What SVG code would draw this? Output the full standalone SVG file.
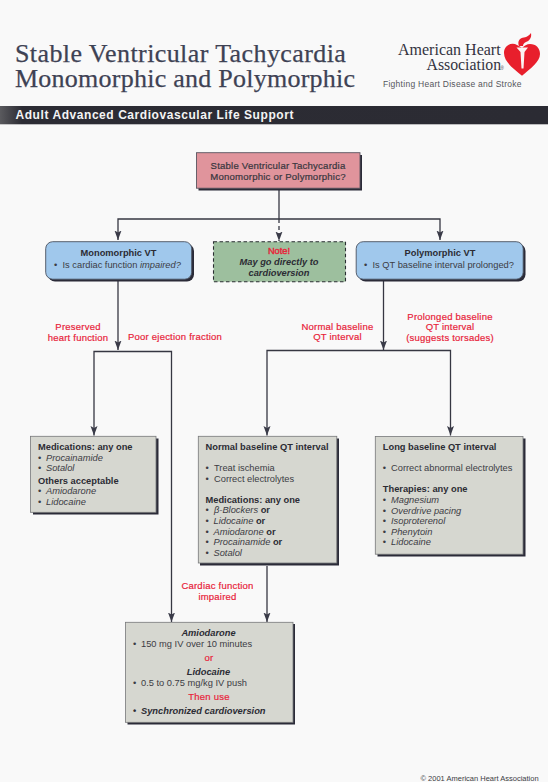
<svg xmlns="http://www.w3.org/2000/svg" width="548" height="782" viewBox="0 0 548 782">
<defs>
<marker id="arr" markerWidth="8" markerHeight="10" refX="4" refY="9.500" orient="0" markerUnits="userSpaceOnUse" viewBox="0 0 8 10"><path d="M0.500 0 L4 2 L7.500 0 L4 9.500 Z" fill="#3a3b48"/></marker>
<linearGradient id="bar" x1="0" x2="1" y1="0" y2="0"><stop offset="0" stop-color="#5a5a5e"/><stop offset=".04" stop-color="#2c2c34"/><stop offset="1" stop-color="#2b2b33"/></linearGradient>
</defs>
<style>
text{font-family:"Liberation Sans",Arial,sans-serif;font-size:9.3px;fill:#3c3c44}
.title{font-family:"Liberation Serif","Times New Roman",serif;font-size:26px;fill:#3e4254;stroke:#3e4254;stroke-width:.25}
.aha{font-family:"Liberation Serif","Times New Roman",serif;font-size:16px;fill:#33333f}
.b{font-weight:bold;fill:#2c2c34}
.i{font-style:italic}
.bi{font-weight:bold;font-style:italic;fill:#2c2c34}
.r{font-size:9.500px;letter-spacing:.22px;fill:#e8233a;stroke:#e8233a;stroke-width:.2}
.m{text-anchor:middle}
.c{fill:none;stroke:#363742;stroke-width:1.3}
.sh{fill:#2b2b38}
.g{fill:#d6d7d0;stroke:#77787a;stroke-width:.8}
.bl{fill:#a0c8ec;stroke:#4a5160;stroke-width:.9}
</style>
<rect width="548" height="782" fill="#f9f9f9"/>
<g id="header">
<text class="title" x="15" y="61.700" style="letter-spacing:.4px">Stable Ventricular Tachycardia</text>
<text class="title" x="15" y="87.300" style="letter-spacing:.25px">Monomorphic and Polymorphic</text>
<text class="aha" x="398" y="55">American Heart</text>
<text class="aha" x="426.500" y="70" style="font-size:15.800px">Association</text>
<text x="500.500" y="70" style="font-size:4.500px">®</text>
<text x="383" y="87" style="font-size:8.500px;fill:#55565c;letter-spacing:.27px">Fighting Heart Disease and Stroke</text>
<path d="M522 75.700 C514 69 504 62 504 53 C504 45 512 42 517 45 C519 46 521 47 522 48 C524 46 527 44 530 44 C536 44 540 48 540 54 C540 62 530 69 522 75.700 Z" fill="#e81f2c"/>
<path d="M516.500 47.500 L528 47.500 L524.500 52 L523.500 68.500 L521.500 68.500 L520.500 52 Z" fill="#fbf4f2"/>
<path d="M519 46 C517 41 520 38 524 37.500 C527 37 529 35.500 531 33 C532 38 529 41 526 42 C524 43 523 44 523 46 Z" fill="#e81f2c"/>
<rect x="0" y="106" width="548" height="18.300" fill="url(#bar)"/>
<text x="15.500" y="118.500" style="font-size:12px;font-weight:bold;fill:#f4f4f4;letter-spacing:.56px">Adult Advanced Cardiovascular Life Support</text>
</g>
<g id="connectors">
<path class="c" d="M279 189V219"/>
<path class="c" d="M279 219V241" stroke-dasharray="4 3" marker-end="url(#arr)"/>
<path class="c" d="M118 240V219H440V240" marker-end="url(#arr)" marker-start="url(#arr)"/>
<path class="c" d="M118 281V350" marker-end="url(#arr)"/>
<path class="c" d="M94 435.500V351.500H171.500V622" marker-end="url(#arr)" marker-start="url(#arr)"/>
<path class="c" d="M383.500 281V350" marker-end="url(#arr)"/>
<path class="c" d="M267 435.500V350.500H450.500V435.500" marker-end="url(#arr)" marker-start="url(#arr)"/>
<path class="c" d="M267 566V622" marker-end="url(#arr)"/>
</g>
<g id="n-start">
<rect class="sh" x="198.500" y="155" width="163.500" height="35.500"/>
<rect x="196.500" y="152.700" width="163.500" height="35.500" fill="#e0949c" stroke="#5a5560" stroke-width=".9"/>
<text class="m" x="278" y="169" style="font-size:9.600px;letter-spacing:.2px;stroke:#2c2c34;stroke-width:.2">Stable Ventricular Tachycardia</text>
<text class="m" x="278" y="180" style="font-size:9.600px;letter-spacing:.2px;stroke:#2c2c34;stroke-width:.2">Monomorphic or Polymorphic?</text>
</g>
<g id="n-mono">
<rect class="sh" x="48" y="244" width="146" height="37.500" rx="7"/>
<rect class="bl" x="45.700" y="241.700" width="146" height="37.500" rx="7"/>
<text class="b m" x="118.500" y="255.500">Monomorphic VT</text>
<text x="54" y="268">•</text>
<text x="62.500" y="268">Is cardiac function <tspan class="i">impaired?</tspan></text>
</g>
<g id="n-note">
<rect x="213.500" y="241.700" width="132" height="40" fill="#9dbf9e" stroke="#2b2f33" stroke-width="1.100" stroke-dasharray="3.500 2.500"/>
<text class="m r" x="279" y="254" style="font-size:9.300px;letter-spacing:0;stroke-width:.4">Note!</text>
<text class="m bi" x="279" y="265">May go directly to</text>
<text class="m bi" x="279" y="275.500">cardioversion</text>
</g>
<g id="n-poly">
<rect class="sh" x="358.500" y="244" width="167" height="37.500" rx="7"/>
<rect class="bl" x="356.200" y="241.700" width="167" height="37.500" rx="7"/>
<text class="b m" x="440" y="255.500">Polymorphic VT</text>
<text x="364" y="268">•</text>
<text x="372.500" y="268">Is QT baseline interval prolonged?</text>
</g>
<g id="labels">
<text class="r m" x="78" y="330">Preserved</text>
<text class="r m" x="78" y="340.500">heart function</text>
<text class="r" x="128" y="340">Poor ejection fraction</text>
<text class="r m" x="337.500" y="329.500">Normal baseline</text>
<text class="r m" x="337.500" y="340">QT interval</text>
<text class="r m" x="450" y="319.500">Prolonged baseline</text>
<text class="r m" x="450" y="330">QT interval</text>
<text class="r m" x="450" y="340.500">(suggests torsades)</text>
<text class="r m" x="217.500" y="589">Cardiac function</text>
<text class="r m" x="217.500" y="599.500">impaired</text>
</g>
<g id="n-meds">
<rect class="sh" x="33" y="438.500" width="125.500" height="76"/>
<rect class="g" x="30.500" y="436.300" width="125.500" height="76"/>
<text class="b" x="38" y="450">Medications: any one</text>
<text x="38" y="460.500">•</text><text class="i" x="46" y="460.500">Procainamide</text>
<text x="38" y="471">•</text><text class="i" x="46" y="471">Sotalol</text>
<text class="b" x="38" y="484">Others acceptable</text>
<text x="38" y="494">•</text><text class="i" x="46" y="494">Amiodarone</text>
<text x="38" y="505">•</text><text class="i" x="46" y="505">Lidocaine</text>
</g>
<g id="n-normal">
<rect class="sh" x="200" y="438.500" width="139" height="127"/>
<rect class="g" x="198.300" y="436.300" width="138.500" height="126.700"/>
<text class="b" x="205.500" y="450">Normal baseline QT interval</text>
<text x="205.500" y="471">•</text><text x="214" y="471">Treat ischemia</text>
<text x="205.500" y="481.500">•</text><text x="214" y="481.500">Correct electrolytes</text>
<text class="b" x="205.500" y="502.500">Medications: any one</text>
<text x="205.500" y="513">•</text><text x="214" y="513"><tspan class="i">β-Blockers</tspan> <tspan class="b">or</tspan></text>
<text x="205.500" y="524">•</text><text x="213.500" y="524"><tspan class="i">Lidocaine</tspan> <tspan class="b">or</tspan></text>
<text x="205.500" y="534.500">•</text><text x="213.500" y="534.500"><tspan class="i">Amiodarone</tspan> <tspan class="b">or</tspan></text>
<text x="205.500" y="545">•</text><text x="213.500" y="545"><tspan class="i">Procainamide</tspan> <tspan class="b">or</tspan></text>
<text x="205.500" y="555.500">•</text><text class="i" x="213.500" y="555.500">Sotalol</text>
</g>
<g id="n-long">
<rect class="sh" x="377.500" y="438.500" width="148" height="118"/>
<rect class="g" x="375.300" y="436.500" width="147.700" height="117.700"/>
<text class="b" x="382.800" y="450">Long baseline QT interval</text>
<text x="382.800" y="471">•</text><text x="391" y="471">Correct abnormal electrolytes</text>
<text class="b" x="382.800" y="492">Therapies: any one</text>
<text x="382.800" y="503">•</text><text class="i" x="391" y="503">Magnesium</text>
<text x="382.800" y="513.500">•</text><text class="i" x="391" y="513.500">Overdrive pacing</text>
<text x="382.800" y="524">•</text><text class="i" x="391" y="524">Isoproterenol</text>
<text x="382.800" y="534.500">•</text><text class="i" x="391" y="534.500">Phenytoin</text>
<text x="382.800" y="545">•</text><text class="i" x="391" y="545">Lidocaine</text>
</g>
<g id="n-amio">
<rect class="sh" x="127.500" y="624" width="167.500" height="100.500"/>
<rect class="g" x="125.500" y="622.300" width="167.500" height="100"/>
<text class="bi m" x="208.500" y="636">Amiodarone</text>
<text x="133" y="647">•</text><text x="141" y="647">150 mg IV over 10 minutes</text>
<text class="r m" x="209" y="661">or</text>
<text class="bi m" x="208.500" y="675">Lidocaine</text>
<text x="133" y="686">•</text><text x="141" y="686">0.5 to 0.75 mg/kg IV push</text>
<text class="r m" x="209" y="700">Then use</text>
<text class="b" x="133" y="714">•</text><text class="bi" x="141" y="714">Synchronized cardioversion</text>
</g>
<text x="420.500" y="780.500" style="font-size:7.500px;fill:#3c3c44">© 2001 American Heart Association</text>
</svg>
